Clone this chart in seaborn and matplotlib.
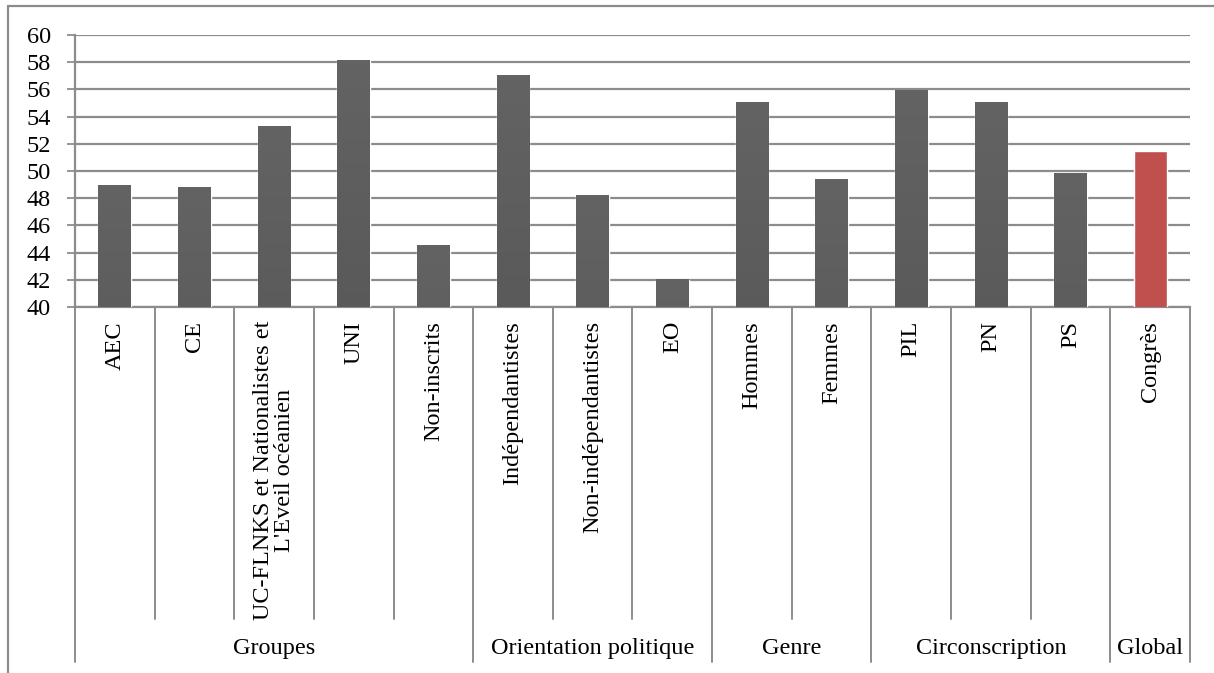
import numpy as np
import pandas as pd
import matplotlib
matplotlib.use("Agg")
import matplotlib.pyplot as plt
from matplotlib.colors import LinearSegmentedColormap
from matplotlib.lines import Line2D
import seaborn as sns

categories = ["AEC", "CE", "UC-FLNKS et Nationalistes et\nL'Eveil océanien", "UNI",
              "Non-inscrits", "Indépendantistes", "Non-indépendantistes", "EO",
              "Hommes", "Femmes", "PIL", "PN", "PS", "Congrès"]
values = [48.9, 48.8, 53.3, 58.1, 44.5, 57.0, 48.2, 42.0, 55.0, 49.4, 55.9, 55.0, 49.8, 51.5]
groups = ["Groupes", "Orientation politique", "Genre", "Circonscription", "Global"]
group_sizes = [5, 3, 2, 3, 1]
y_ticks = [40, 42, 44, 46, 48, 50, 52, 54, 56, 58, 60]

df = pd.DataFrame({"cat": categories, "val": values})
gray_top, gray_bot = "#636363", "#444444"
red = "#c0504d"
colors = [gray_bot] * (len(categories) - 1) + [red]

sns.set_theme(style="white")
plt.rcParams["font.family"] = ["Liberation Serif", "DejaVu Serif"]
FS = 17.5
GRID = "#8c8c8c"

W, H = 1214, 673
fig = plt.figure(figsize=(W / 100, H / 100), dpi=100)
ax = fig.add_axes([75 / W, (H - 307) / H, (1190 - 75) / W, (307 - 35) / H])

sns.barplot(data=df, x="cat", y="val", hue="cat", palette=colors, legend=False,
            width=0.41, ax=ax, order=categories, saturation=1, zorder=3)

# vertical gradient on dark bars
cmap = LinearSegmentedColormap.from_list("g", [gray_bot, gray_top])
grad = np.linspace(0, 1, 256).reshape(-1, 1)
for i, p in enumerate(list(ax.patches)):
    if i == len(categories) - 1:
        continue
    x0, y0 = p.get_x(), p.get_y()
    w, h = p.get_width(), p.get_height()
    ax.imshow(grad, cmap=cmap, extent=[x0, x0 + w, y0, y0 + h], origin="lower",
              aspect="auto", zorder=4, interpolation="bilinear")

ax.set_xlim(-0.5, len(categories) - 0.5)
ax.set_ylim(40, 60)
ax.set_yticks(y_ticks)
ax.set_yticklabels([str(t) for t in y_ticks], fontsize=FS, color="black")
ax.yaxis.grid(True, color=GRID, lw=1.6, zorder=1)
ax.set_axisbelow(True)
ax.set_xticks([])
ax.set_xlabel("")
ax.set_ylabel("")
ax.tick_params(axis="y", length=5.5, width=1.3, color=GRID, left=True, pad=12)
for s in ["top", "right"]:
    ax.spines[s].set_visible(False)
for s in ["left", "bottom"]:
    ax.spines[s].set_color(GRID)
    ax.spines[s].set_linewidth(1.6)

trans = ax.get_xaxis_transform()
y_inner = -(619 - 307) / 272
y_outer = -(662 - 307) / 272
y_lab = -(321 - 307) / 272
y_grp = -(648 - 307) / 272

# category labels
for i, c in enumerate(categories):
    ax.text(i, y_lab, c, rotation=90, ha="center", va="top", fontsize=FS,
            transform=trans, multialignment="center", linespacing=1.0, color="black")

# separators
bounds = np.cumsum([0] + group_sizes)
group_bounds = set(bounds.tolist())
for b in range(len(categories) + 1):
    yb = y_outer if b in group_bounds else y_inner
    ax.add_line(Line2D([b - 0.5, b - 0.5], [0, yb], transform=trans, color=GRID,
                       lw=1.4, clip_on=False))

# group labels
for g, s0, s1 in zip(groups, bounds[:-1], bounds[1:]):
    ax.text((s0 + s1 - 1) / 2, y_grp, g, ha="center", va="center", fontsize=FS,
            transform=trans, color="black")

# outer border (partial, as in reference crop)
fig.add_artist(Line2D([8 / W, 1], [1 - 6 / H, 1 - 6 / H], transform=fig.transFigure,
                      color=GRID, lw=1.6))
fig.add_artist(Line2D([8 / W, 8 / W], [0, 1 - 6 / H], transform=fig.transFigure,
                      color=GRID, lw=1.6))

fig.savefig("out.png", dpi=100, facecolor="white")
